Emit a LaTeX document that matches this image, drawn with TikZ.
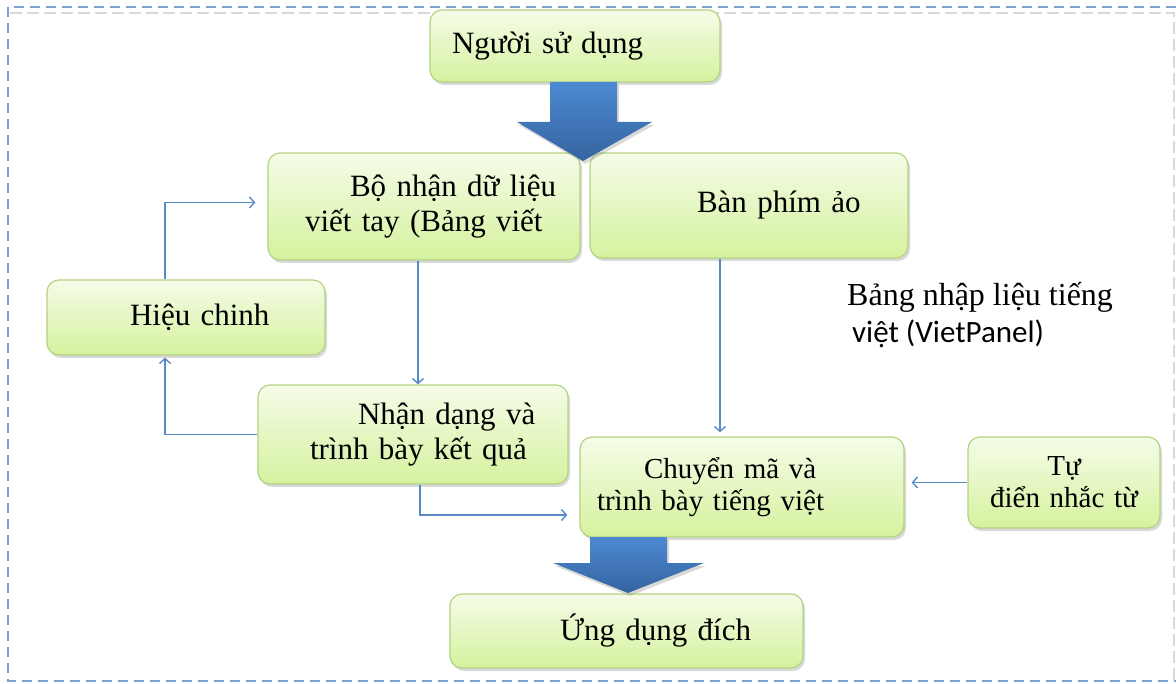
\documentclass[tikz,border=0pt]{standalone}
\usepackage{fontspec}
\setmainfont{Liberation Serif}
\newfontfamily\sansviet{Carlito}
\usetikzlibrary{arrows.meta,shadows}

\definecolor{vienla}{HTML}{B3D283}
\definecolor{lasang}{HTML}{F5FCE8}
\definecolor{lanhat}{HTML}{D5F29E}
\definecolor{xanhsang}{HTML}{4C89D2}
\definecolor{xanhdam}{HTML}{35649F}
\definecolor{duongnoi}{HTML}{5A8AC6}
\definecolor{khungxanh}{HTML}{7CA0D2}

\begin{document}
\begin{tikzpicture}[x=1pt,y=-1pt,
    khoi/.style={draw=vienla,line width=1.2pt,rounded corners=12pt,top color=lasang,bottom color=lanhat,
      drop shadow={shadow xshift=2pt,shadow yshift=-3pt,opacity=.3},align=left,inner sep=0pt,
      font=\fontsize{31}{35}\selectfont},
    noi/.style={draw=duongnoi,line width=1.4pt,-{Straight Barb[length=5pt,width=11pt]}},
    muiten/.style={top color=xanhsang,bottom color=xanhdam,
      drop shadow={shadow xshift=2pt,shadow yshift=-3pt,opacity=.3}}]
  \useasboundingbox (0,0) rectangle (1176,684);
  \draw[khungxanh,line width=1.6pt,dash pattern=on 10pt off 6pt](8,7)rectangle(1182,681);
  \draw[black!15,line width=1.6pt,dash pattern=on 12pt off 5pt](10,13)--(1174,13)--(1174,684);

  \node[khoi,text width=290pt,minimum height=72pt] (nguoidung) at (575,46) {\hspace*{22pt}Người sử dụng};
  \node[khoi,text width=312pt,minimum height=107pt] (bonhan) at (424,206.5)
    {\hspace*{82pt}Bộ nhận dữ liệu\\\hspace*{37pt}viết tay (Bảng viết};
  \node[khoi,text width=318pt,minimum height=105pt] (banphim) at (749,205.5) {\hspace*{107pt}Bàn phím ảo};
  \node[khoi,text width=278pt,minimum height=75pt] (hieuchinh) at (186,317.5) {\hspace*{83pt}Hiệu chinh};
  \node[khoi,text width=310pt,minimum height=99pt] (nhandang) at (413,434.5)
    {\hspace*{100pt}Nhận dạng và\\\hspace*{52pt}trình bày kết quả};
  \node[khoi,text width=324pt,minimum height=100pt,font=\fontsize{29}{32}\selectfont] (chuyenma) at (742,487)
    {\hspace*{64pt}Chuyển mã và\\\hspace*{17pt}trình bày tiếng việt};
  \node[khoi,text width=192pt,minimum height=91pt,align=center,font=\fontsize{29}{32}\selectfont] (tudien)
    at (1064,482.5) {Tự\\điển nhắc từ};
  \node[khoi,text width=353pt,minimum height=74pt] (ungdung) at (626.5,631) {\hspace*{110pt}Ứng dụng đích};
  \node[anchor=west,align=left,inner sep=0pt,font=\fontsize{32}{37}\selectfont] (nhaplieu) at (847,315)
    {Bảng nhập liệu tiếng\\\hspace*{5pt}{\sansviet\fontsize{31}{37}\selectfont việt (VietPanel)}};

  \path[muiten](550,82)--(617,82)--(617,122)--(652,122)--(583,161)--(517,122)--(550,122)--cycle;
  \path[muiten](590,537)--(667,537)--(667,563)--(704,563)--(628,593)--(553,563)--(590,563)--cycle;

  \draw[noi,shorten >=12pt]([xshift=-21pt]hieuchinh.north)|-([yshift=4pt]bonhan.west);
  \draw[noi]([xshift=-6pt]bonhan.south)--([xshift=-6pt]bonhan.south|-nhandang.north);
  \draw[noi,shorten >=2pt](nhandang.west)-|([xshift=-21pt]hieuchinh.south);
  \draw[noi,shorten >=12pt]([xshift=7pt]nhandang.south)|-([yshift=-28pt]chuyenma.west);
  \draw[noi,shorten >=4pt]([xshift=-29pt]banphim.south)--([xshift=-29pt]banphim.south|-chuyenma.north);
  \draw[noi,shorten >=7pt](tudien.west)--(tudien.west-|chuyenma.east);
\end{tikzpicture}
\end{document}
